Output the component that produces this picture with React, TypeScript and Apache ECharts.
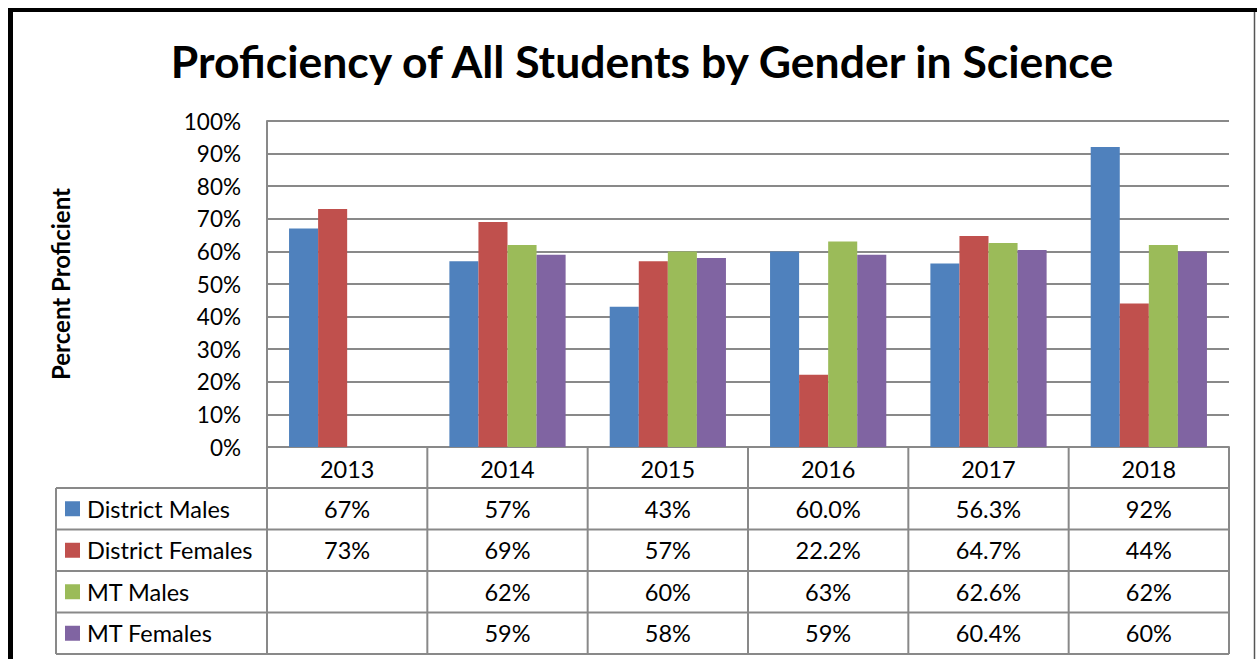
import React, { useEffect, useRef } from "react";
import * as echarts from "echarts";

const titleText = "Proficiency of All Students by Gender in Science";
const yAxisName = "Percent Proficient";
const years = ["2013", "2014", "2015", "2016", "2017", "2018"];
const seriesNames = ["District Males", "District Females", "MT Males", "MT Females"];
const districtMales = ["67%", "57%", "43%", "60.0%", "56.3%", "92%"];
const districtFemales = ["73%", "69%", "57%", "22.2%", "64.7%", "44%"];
const mtMales = ["", "62%", "60%", "63%", "62.6%", "62%"];
const mtFemales = ["", "59%", "58%", "59%", "60.4%", "60%"];
const colors = ["#4F81BD", "#C0504D", "#9BBB59", "#8064A2"];
const yMin = 0;
const yMax = 100;
const yInterval = 10;

const W = 1257;
const H = 659;
const FONT = "Lato";
const GRID_L = 267;
const GRID_R = 1229;
const GRID_T = 121;
const GRID_B = 447;
const TABLE_L = 56;
const HEADER_H = 41;
const ROW_H = 41.5;
const LINE = "#898989";
const TABLE_FS = 23.5;

export default function App() {
  const ref = useRef<HTMLDivElement>(null);
  useEffect(() => {
    if (!ref.current) return;
    const chart = echarts.init(ref.current, null, { renderer: "svg" });
    const rows = [districtMales, districtFemales, mtMales, mtFemales];
    const toVal = (s: string) => (s === "" ? null : parseFloat(s));
    const colW = (GRID_R - GRID_L) / years.length;
    const rowTop = (i: number) => GRID_B + HEADER_H + i * ROW_H;
    const tableBottom = rowTop(rows.length);

    const g: any[] = [];
    // outer border
    g.push({ type: "rect", shape: { x: 8, y: 8, width: W - 8, height: 4 }, style: { fill: "#000" } });
    g.push({ type: "rect", shape: { x: 8, y: 8, width: 5, height: H - 8 }, style: { fill: "#000" } });
    g.push({ type: "line", shape: { x1: 1254.5, y1: 12, x2: 1254.5, y2: H }, style: { stroke: "#555", lineWidth: 1.5 } });
    // title
    g.push({
      type: "text",
      style: {
        text: titleText, x: 642, y: 60, textAlign: "center", textVerticalAlign: "middle",
        fontFamily: FONT, fontWeight: "bold", fontSize: 44.5, fill: "#000",
      },
    });
    // table vertical lines
    for (let c = 0; c <= years.length; c++) {
      const x = GRID_L + c * colW;
      g.push({ type: "line", shape: { x1: x, y1: GRID_B, x2: x, y2: tableBottom }, style: { stroke: LINE, lineWidth: 2 } });
    }
    g.push({ type: "line", shape: { x1: TABLE_L, y1: rowTop(0), x2: TABLE_L, y2: tableBottom }, style: { stroke: LINE, lineWidth: 2 } });
    // table horizontal lines
    for (let r = 0; r <= rows.length; r++) {
      const y = rowTop(r);
      g.push({ type: "line", shape: { x1: TABLE_L, y1: y, x2: GRID_R, y2: y }, style: { stroke: LINE, lineWidth: 2 } });
    }
    // header years
    years.forEach((yr, c) => {
      g.push({
        type: "text",
        style: {
          text: yr, x: GRID_L + (c + 0.5) * colW, y: GRID_B + HEADER_H / 2 + 1,
          textAlign: "center", textVerticalAlign: "middle", fontFamily: FONT, fontSize: TABLE_FS, fill: "#000",
        },
      });
    });
    // rows
    rows.forEach((row, r) => {
      const cy = rowTop(r) + ROW_H / 2;
      g.push({ type: "rect", shape: { x: 65, y: cy - 7.5, width: 15, height: 15 }, style: { fill: colors[r] } });
      g.push({
        type: "text",
        style: {
          text: seriesNames[r], x: 87, y: cy, textAlign: "left", textVerticalAlign: "middle",
          fontFamily: FONT, fontSize: TABLE_FS, fill: "#000",
        },
      });
      row.forEach((v, c) => {
        if (!v) return;
        g.push({
          type: "text",
          style: {
            text: v, x: GRID_L + (c + 0.5) * colW, y: cy,
            textAlign: "center", textVerticalAlign: "middle", fontFamily: FONT, fontSize: TABLE_FS, fill: "#000",
          },
        });
      });
    });

    chart.setOption({
      animation: false,
      backgroundColor: "#fff",
      grid: { left: GRID_L, right: W - GRID_R, top: GRID_T, bottom: H - GRID_B, containLabel: false },
      xAxis: {
        type: "category",
        data: years,
        axisLabel: { show: false },
        axisTick: { show: false },
        axisLine: { lineStyle: { color: LINE, width: 2 } },
      },
      yAxis: {
        type: "value",
        min: yMin,
        max: yMax,
        interval: yInterval,
        name: yAxisName,
        nameLocation: "middle",
        nameGap: 195,
        nameTextStyle: { fontFamily: FONT, fontWeight: "bold", fontSize: 24, color: "#000" },
        axisLine: { show: true, lineStyle: { color: LINE, width: 2 } },
        axisTick: { show: false },
        axisLabel: { formatter: "{value}%", fontFamily: FONT, fontSize: 22.5, color: "#000", margin: 26 },
        splitLine: { lineStyle: { color: LINE, width: 2 } },
      },
      series: rows.map((row, i) => ({
        type: "bar",
        name: seriesNames[i],
        data: row.map(toVal),
        itemStyle: { color: colors[i] },
        barGap: "0%",
        barCategoryGap: "27.5%",
      })),
      graphic: g,
    });
    return () => chart.dispose();
  }, []);
  return <div ref={ref} style={{ position: "absolute", left: 0, top: 0, width: W, height: H }} />;
}
